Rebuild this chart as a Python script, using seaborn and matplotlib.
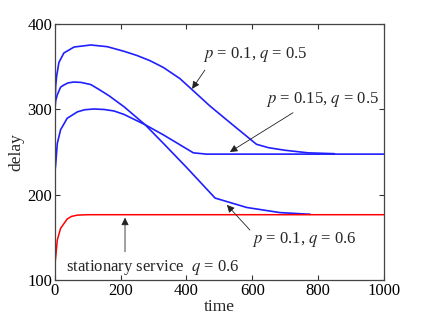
import matplotlib
matplotlib.use("Agg")
import matplotlib.pyplot as plt
import seaborn as sns

# Data
t_a = [0, 2, 5, 12, 27, 58, 109, 159, 210, 250, 289, 330, 380, 420, 471, 540, 613, 650, 700, 770, 850]
v_a = [300, 327, 339, 355, 366, 373, 375.4, 373.4, 368, 363, 357, 349, 336, 322, 304, 282, 259, 255, 252, 249, 248]

t_b = [0, 2, 7, 17, 27, 40, 58, 80, 109, 135, 164, 210, 274, 330, 400, 487, 522, 583, 684, 776]
v_b = [300, 310, 317, 326, 328.5, 331, 332, 331.5, 329, 323, 316, 303, 282, 260, 232, 196, 192, 185, 179, 177]

t_c = [0, 2, 7, 17, 37, 68, 90, 119, 150, 180, 210, 274, 330, 421, 461, 1000]
v_c = [228, 235, 260, 276, 289.5, 297, 299.5, 300.4, 299.8, 298, 294, 282, 270, 249, 247.5, 247.5]

t_r = [0, 2, 7, 17, 37, 50, 68, 100, 1000]
v_r = [120, 126, 146.8, 160.5, 171.4, 174.5, 176, 176.5, 176.5]

x_ticks = [0, 200, 400, 600, 800, 1000]
y_ticks = [100, 200, 300, 400]

sns.set_style("ticks")
plt.rcParams["font.family"] = ["Liberation Serif", "DejaVu Serif"]
plt.rcParams["mathtext.fontset"] = "stix"

fig = plt.figure(figsize=(4.24, 3.19), dpi=100)
ax = fig.add_axes([0.1297, 0.1223, 0.9050 - 0.1297, 0.9248 - 0.1223])

blue = "#1f1fff"
for t, v in [(t_a, v_a), (t_b, v_b), (t_c, v_c)]:
    sns.lineplot(x=t, y=v, ax=ax, color=blue, lw=1.2, estimator=None, sort=False)
sns.lineplot(x=t_r, y=v_r, ax=ax, color="#ff0000", lw=1.1, estimator=None, sort=False)

ax.set_xlim(0, 1000)
ax.set_ylim(100, 400)
ax.set_xticks(x_ticks)
ax.set_yticks(y_ticks)
ax.tick_params(direction="in", length=3.5, width=0.8, top=True, right=True,
               labelsize=12, colors="#333333", labelcolor="black", pad=2)
for s in ax.spines.values():
    s.set_visible(True)
    s.set_color("#444444")
    s.set_linewidth(0.9)

ax.set_xlabel("time", fontsize=12.5, labelpad=0)
ax.set_ylabel("delay", fontsize=12.5, labelpad=2)

arrow = dict(arrowstyle="-|>", color="#222222", lw=0.6, mutation_scale=11,
             shrinkA=0, shrinkB=0)
fs = 12
ax.annotate(r"$p$ = 0.1, $q$ = 0.5", xy=(417, 324), xytext=(608, 364),
            ha="center", va="center", fontsize=fs)
ax.annotate("", xy=(417, 324), xytext=(456, 346), arrowprops=arrow)

ax.annotate(r"$p$ = 0.15, $q$ = 0.5", xy=(532, 250), xytext=(815, 311),
            ha="center", va="center", fontsize=fs)
ax.annotate("", xy=(532, 250), xytext=(724, 296), arrowprops=arrow)

ax.annotate(r"$p$ = 0.1, $q$ = 0.6", xy=(523, 188), xytext=(760, 147),
            ha="center", va="center", fontsize=fs)
ax.annotate("", xy=(523, 188), xytext=(593, 158.5), arrowprops=arrow)

ax.annotate(r"stationary service  $q$ = 0.6", xy=(213, 173), xytext=(298, 115),
            ha="center", va="center", fontsize=fs)
ax.annotate("", xy=(213, 173), xytext=(213, 133), arrowprops=arrow)

fig.savefig("out.png", dpi=100)
